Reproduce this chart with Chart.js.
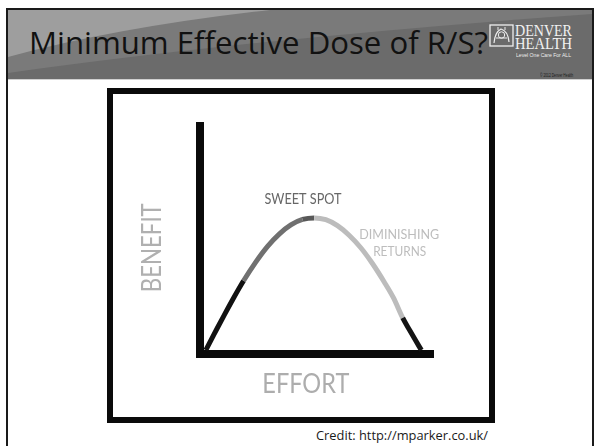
<!DOCTYPE html>
<html>
<head>
<meta charset="utf-8">
<script src="https://cdn.jsdelivr.net/npm/chart.js@4.4.1/dist/chart.umd.min.js"></script>
<style>
  html, body { margin: 0; padding: 0; background: #fff; }
  body { width: 596px; height: 446px; position: relative; overflow: hidden; font-family: 'Open Sans', sans-serif; }
  .frame { position: absolute; left: 6px; top: 8px; width: 584px; height: 460px; border: 2px solid #1a1a1a; }
  .header { position: absolute; left: 8px; top: 10px; width: 584px; height: 69px; background: #6b6b6b; border-bottom: 1px solid #d0d0d0; overflow: hidden; }
  .header svg { position: absolute; left: 0; top: 0; }
  .fit { position: absolute; white-space: nowrap; transform-origin: 0 0; line-height: 1; }
  #title { left: 29px; top: 27px; font-size: 31px; color: #111; }
  .serif { font-family: 'Liberation Serif', serif; color: #f2f2f2; font-size: 16px; }
  #denver { left: 515px; top: 23px; }
  #health { left: 515px; top: 36px; }
  #motto { left: 516px; top: 52px; font-size: 6px; color: #eee; font-family: 'Liberation Sans', sans-serif; }
  #copy { left: 540px; top: 73px; font-size: 5px; color: #1a1a1a; font-family: 'Liberation Sans', sans-serif; }
  .logo { position: absolute; left: 489px; top: 24px; }
  .box { position: absolute; left: 107px; top: 88px; width: 376px; height: 323px; border: 6px solid #0a0a0a; background: #fff; }
  #chart { display: block; }
  #credit { left: 316px; top: 429px; font-size: 13px; color: #1a1a1a; }
</style>
</head>
<body>
<div class="frame"></div>
<div class="header">
  <svg width="584" height="69">
    <path d="M0,63 Q250,28 584,4 L584,0 L0,0 Z" fill="#7a7a7a"/>
    <path d="M0,47 Q110,17 262,0 L0,0 Z" fill="#9e9e9e"/>
  </svg>
</div>
<div id="title" class="fit" data-w="459">Minimum Effective Dose of R/S?</div>
<svg class="logo" width="26" height="24">
  <rect x="1" y="1" width="23" height="21" fill="none" stroke="#eee" stroke-width="1.3"/>
  <path d="M5,19 Q6,8 12,5 Q19,7 20,18" fill="none" stroke="#eee" stroke-width="1.2"/>
  <circle cx="12.5" cy="11" r="3.2" fill="none" stroke="#eee" stroke-width="1"/>
  <path d="M7,14 L18,14 M9,6 L9,3 M16,6 L16,3" stroke="#eee" stroke-width="1"/>
</svg>
<div id="denver" class="fit serif" data-w="57">DENVER</div>
<div id="health" class="fit serif" data-w="57">HEALTH</div>
<div id="motto" class="fit" data-w="55">Level One Care For ALL</div>
<div id="copy" class="fit" data-w="33">© 2012 Denver Health</div>
<div class="box"><canvas id="chart" width="376" height="323"></canvas></div>
<div id="credit" class="fit" data-w="172">Credit: http://mparker.co.uk/</div>

<script>
// effort (x) and benefit (y)
const effort  = [2.5, 5, 7.5, 10, 14, 18.7, 24, 29, 34, 39, 44, 49, 54, 59, 64, 69, 74, 79, 83, 87, 90, 92.5, 95];
const benefit = [1.7, 6.6, 11.5, 16.3, 23.8, 32.1, 40.4, 47.2, 52.6, 56.6, 59.0, 59.7, 58.9, 56.3, 52.1, 46.6, 39.7, 31.7, 24.7, 15.8, 10.4, 6.0, 1.7];
// where each shade of the curve stops (effort)
const zoneEnds = [18.7, 44, 49, 87, 95];

const zoneColors = ['#111111', '#707070', '#585858', '#bcbcbc', '#141414'];

const notes = [
    { text: 'SWEET SPOT',  x: 44.2,  y: 65.7,  size: 15, w: 77, color: '#676767' },
    { text: 'DIMINISHING', x: 85.5,  y: 50.4,  size: 14, w: 80, color: '#bdbdbd' },
    { text: 'RETURNS',     x: 85.7,  y: 43.2,  size: 14, w: 53, color: '#bdbdbd' },
    { text: 'BENEFIT',     x: -16.6, y: 46.6,  size: 26, w: 89, color: '#b0b0b0', rotate: true },
    { text: 'EFFORT',      x: 45.4,  y: -16.9, size: 26, w: 87, color: '#adadad' }
];

document.querySelectorAll('.fit').forEach(el => {
    const w = +el.dataset.w;
    el.style.transform = `scaleX(${w / el.getBoundingClientRect().width})`;
});

const shadeFor = (x) => {
    const i = zoneEnds.findIndex(end => x <= end);
    return zoneColors[i < 0 ? zoneColors.length - 1 : i];
};

const notesPlugin = {
    id: 'notes',
    afterDatasetsDraw(chart) {
        const { ctx, scales: { x, y } } = chart;
        notes.forEach(n => {
            ctx.save();
            ctx.font = `${n.size}px Lato, sans-serif`;
            ctx.fillStyle = n.color;
            ctx.textAlign = 'center';
            ctx.textBaseline = 'alphabetic';
            const k = n.w / ctx.measureText(n.text).width;
            ctx.translate(x.getPixelForValue(n.x), y.getPixelForValue(n.y));
            if (n.rotate) ctx.rotate(-Math.PI / 2);
            ctx.scale(k, 1);
            ctx.fillText(n.text, 0, 0);
            ctx.restore();
        });
    }
};

new Chart(document.getElementById('chart'), {
    type: 'line',
    data: {
        datasets: [{
            data: effort.map((e, i) => ({ x: e, y: benefit[i] })),
            borderWidth: 5,
            borderColor: '#111',
            cubicInterpolationMode: 'monotone',
            pointRadius: 0,
            fill: false,
            segment: {
                borderColor: c => shadeFor((c.p0.parsed.x + c.p1.parsed.x) / 2)
            }
        }]
    },
    options: {
        responsive: false,
        animation: false,
        events: [],
        layout: { padding: { left: 79, right: 56, top: 32, bottom: 55 } },
        plugins: { legend: { display: false }, tooltip: { enabled: false } },
        scales: {
            x: {
                type: 'linear', min: 0, max: 100,
                grid: { display: false },
                ticks: { display: false },
                border: { display: true, width: 8, color: '#0a0a0a' }
            },
            y: {
                type: 'linear', min: 0, max: 100,
                grid: { display: false },
                ticks: { display: false },
                border: { display: true, width: 8, color: '#0a0a0a' }
            }
        }
    },
    plugins: [notesPlugin]
});
</script>
</body>
</html>
